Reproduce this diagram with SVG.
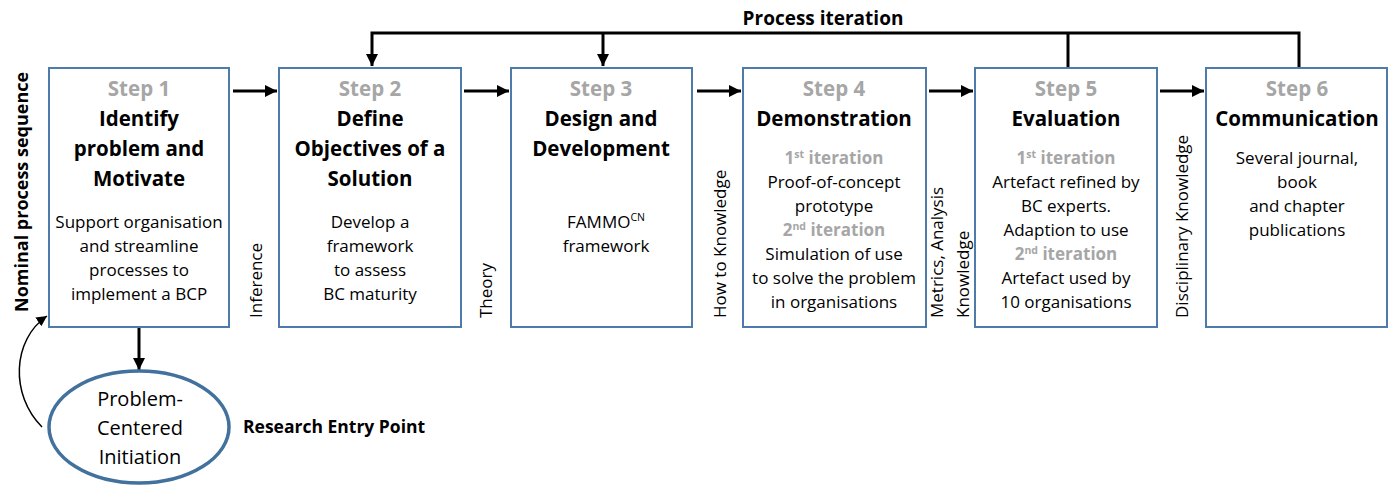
<svg xmlns="http://www.w3.org/2000/svg" width="1392" height="487" viewBox="0 0 1392 487">
<defs>
<style>
.box{fill:#fff;stroke:#4F7BAA;stroke-width:2}
.ell{fill:#fff;stroke:#41719C;stroke-width:3.5}
.t{font-family:"Open Sans","Liberation Sans",sans-serif;text-anchor:middle}
.step{font-size:20.5px;font-weight:bold;fill:#A6A6A6}
.ttl{font-size:20.5px;font-weight:bold;fill:#000}
.body{font-size:17px;fill:#000}
.it{font-size:17px;font-weight:bold;fill:#A6A6A6}
.lbl{font-family:"Open Sans","Liberation Sans",sans-serif;font-size:17px;fill:#000}
.bl{font-family:"Open Sans","Liberation Sans",sans-serif;font-size:17.5px;font-weight:bold;fill:#000}
.ln{fill:none;stroke:#000;stroke-width:3}
.thin{fill:none;stroke:#000;stroke-width:1.5}
</style>
<marker id="ah" viewBox="0 0 10 10" refX="10" refY="5" markerWidth="4" markerHeight="4" orient="auto" markerUnits="strokeWidth"><path d="M0,0 L10,5 L0,10 z" fill="#000"/></marker>
<marker id="ah2" viewBox="0 0 10 10" refX="10" refY="5" markerWidth="7" markerHeight="7" orient="auto" markerUnits="strokeWidth"><path d="M0,0 L10,5 L0,10 z" fill="#000"/></marker>
</defs>
<rect width="1392" height="487" fill="#fff"/>

<g id="connectors">
<path class="ln" d="M233,91 H277" marker-end="url(#ah)"/>
<path class="ln" d="M464,91 H509" marker-end="url(#ah)"/>
<path class="ln" d="M697,91 H741" marker-end="url(#ah)"/>
<path class="ln" d="M929,91 H973" marker-end="url(#ah)"/>
<path class="ln" d="M1160,91 H1204" marker-end="url(#ah)"/>
<path class="ln" d="M1299,67 V33 H372 V66" marker-end="url(#ah)"/>
<path class="ln" d="M1068,67 V33"/>
<path class="ln" d="M603,33 V66" marker-end="url(#ah)"/>
<path class="ln" d="M139,328 V370" marker-end="url(#ah)"/>
<path class="thin" d="M42,427 C10,395 12,340 47,316" marker-end="url(#ah2)"/>
</g>

<g id="process-iteration"><text class="bl" x="823" y="25" text-anchor="middle" style="font-size:19px">Process iteration</text></g>

<g id="step1">
<rect class="box" x="49" y="68" width="180" height="259"/>
<text class="t step" x="139" y="96">Step 1</text>
<text class="t ttl" x="139" y="126">Identify</text>
<text class="t ttl" x="139" y="156">problem and</text>
<text class="t ttl" x="139" y="186">Motivate</text>
<text class="t body" x="139" y="228">Support organisation</text>
<text class="t body" x="139" y="252">and streamline</text>
<text class="t body" x="139" y="276">processes to</text>
<text class="t body" x="139" y="300">implement a BCP</text>
</g>

<g id="step2">
<rect class="box" x="279" y="68" width="182" height="259"/>
<text class="t step" x="370" y="96">Step 2</text>
<text class="t ttl" x="370" y="126">Define</text>
<text class="t ttl" x="370" y="156">Objectives of a</text>
<text class="t ttl" x="370" y="186">Solution</text>
<text class="t body" x="370" y="228">Develop a</text>
<text class="t body" x="370" y="252">framework</text>
<text class="t body" x="370" y="276">to assess</text>
<text class="t body" x="370" y="300">BC maturity</text>
</g>

<g id="step3">
<rect class="box" x="511" y="68" width="181" height="259"/>
<text class="t step" x="601" y="96">Step 3</text>
<text class="t ttl" x="601" y="126">Design and</text>
<text class="t ttl" x="601" y="156">Development</text>
<text class="t body" x="606" y="228">FAMMO<tspan font-size="10.5" dy="-7">CN</tspan></text>
<text class="t body" x="606" y="252">framework</text>
</g>

<g id="step4">
<rect class="box" x="743" y="68" width="183" height="259"/>
<text class="t step" x="834" y="96">Step 4</text>
<text class="t ttl" x="834" y="126">Demonstration</text>
<text class="t it" x="834" y="164">1<tspan font-size="10.5" dy="-6">st</tspan><tspan dy="6"> iteration</tspan></text>
<text class="t body" x="834" y="188">Proof-of-concept</text>
<text class="t body" x="834" y="212">prototype</text>
<text class="t it" x="834" y="236">2<tspan font-size="10.5" dy="-6">nd</tspan><tspan dy="6"> iteration</tspan></text>
<text class="t body" x="834" y="260">Simulation of use</text>
<text class="t body" x="834" y="284">to solve the problem</text>
<text class="t body" x="834" y="308">in organisations</text>
</g>

<g id="step5">
<rect class="box" x="975" y="68" width="182" height="259"/>
<text class="t step" x="1066" y="96">Step 5</text>
<text class="t ttl" x="1066" y="126">Evaluation</text>
<text class="t it" x="1066" y="164">1<tspan font-size="10.5" dy="-6">st</tspan><tspan dy="6"> iteration</tspan></text>
<text class="t body" x="1066" y="188">Artefact refined by</text>
<text class="t body" x="1066" y="212">BC experts.</text>
<text class="t body" x="1066" y="236">Adaption to use</text>
<text class="t it" x="1066" y="260">2<tspan font-size="10.5" dy="-6">nd</tspan><tspan dy="6"> iteration</tspan></text>
<text class="t body" x="1066" y="284">Artefact used by</text>
<text class="t body" x="1066" y="308">10 organisations</text>
</g>

<g id="step6">
<rect class="box" x="1206" y="68" width="181" height="259"/>
<text class="t step" x="1297" y="96">Step 6</text>
<text class="t ttl" x="1297" y="126">Communication</text>
<text class="t body" x="1297" y="164">Several journal,</text>
<text class="t body" x="1297" y="188">book</text>
<text class="t body" x="1297" y="212">and chapter</text>
<text class="t body" x="1297" y="236">publications</text>
</g>

<g id="entry">
<ellipse class="ell" cx="139" cy="427" rx="90" ry="56"/>
<text class="t" x="140" y="406" style="font-size:20px">Problem-</text>
<text class="t" x="140" y="435" style="font-size:20px">Centered</text>
<text class="t" x="140" y="464" style="font-size:20px">Initiation</text>
</g>

<g id="labels">
<text class="bl" x="243" y="433">Research Entry Point</text>
<text class="bl" transform="translate(28,312) rotate(-90)" style="font-size:18px">Nominal process sequence</text>
<text class="lbl" transform="translate(262,318) rotate(-90)">Inference</text>
<text class="lbl" transform="translate(492,318) rotate(-90)">Theory</text>
<text class="lbl" transform="translate(726,318) rotate(-90)">How to Knowledge</text>
<text class="lbl" transform="translate(943,318) rotate(-90)">Metrics, Analysis</text>
<text class="lbl" transform="translate(969,318) rotate(-90)">Knowledge</text>
<text class="lbl" transform="translate(1188,318) rotate(-90)">Disciplinary Knowledge</text>
</g>
</svg>
